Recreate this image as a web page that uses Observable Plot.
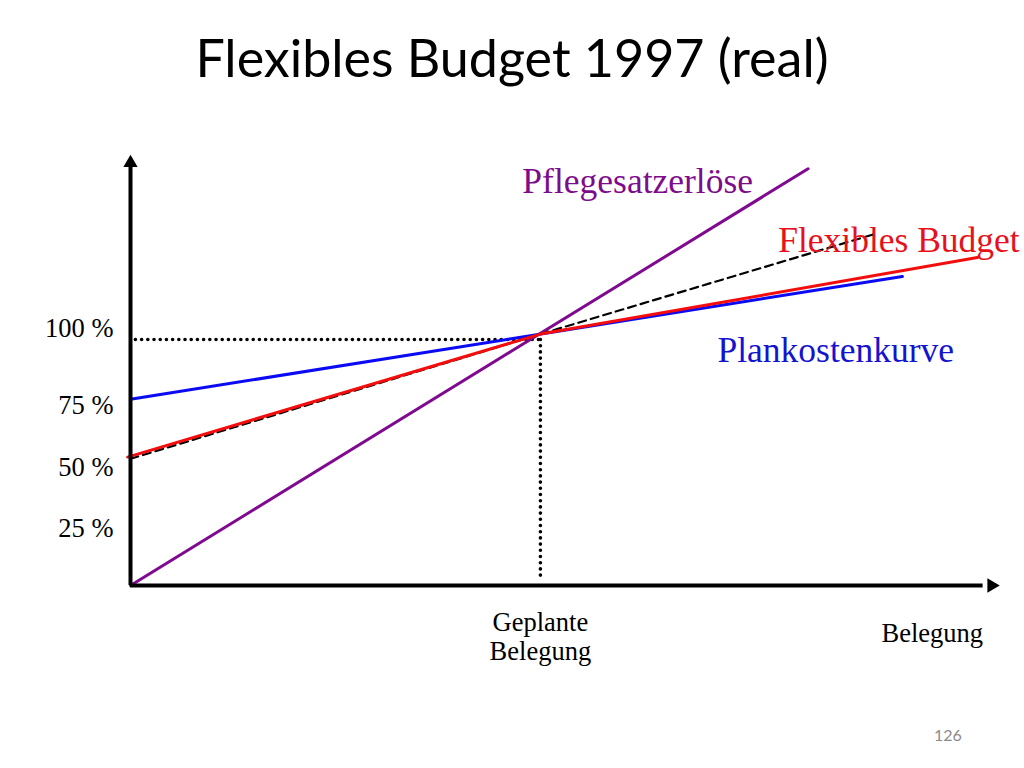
<!DOCTYPE html>
<html>
<head>
<meta charset="utf-8">
<script src="https://cdn.jsdelivr.net/npm/d3@7"></script>
<script src="https://cdn.jsdelivr.net/npm/@observablehq/plot@0.6"></script>
<style>
  html, body { margin: 0; padding: 0; background: #fff; }
  #wrap { position: relative; width: 1024px; height: 768px; overflow: hidden; }
  #title { position: absolute; left: 0; top: 31px; width: 1024px; text-align: center;
           font-family: Lato, "Open Sans", sans-serif; font-size: 52px; color: #000; line-height: 1; }
  #page { position: absolute; left: 934px; top: 725px; font-family: Lato, sans-serif; font-size: 16px; color: #8a8a8a; }
  #chart { position: absolute; left: 0; top: 0; }
</style>
</head>
<body>
<div id="wrap">
  <div id="chart"></div>
  <div id="title">Flexibles Budget 1997 (real)</div>
  <div id="page">126</div>
</div>
<script>
// ---- data (occupancy in % of planned, value in % of planned level) ----
const xMax = 212;            // end of occupancy axis
const yMax = 175;            // end of value axis
const plannedOccupancy = 100;
const plannedLevel = 100;

const pflegeX = [0, 165.3];
const pflegeY = [0, 169.4];

const planX = [0, 188.3];
const planY = [75.7, 125.6];

const flexX = [-0.7, 100, 206.6];
const flexY = [52.2, 102.2, 133.3];

const dashX = [0, 100, 182];
const dashY = [51.5, 102.2, 143.1];

const yTicks = [25, 50, 75];
const yTickLabels = ["25 %", "50 %", "75 %"];
const topTick = [100];
const topTickLabel = ["100 %"];

const seriesLabels = ["Pflegesatzerlöse", "Flexibles Budget", "Plankostenkurve"];
const seriesLabelX = [95.6, 158, 143.2];
const seriesLabelY = [164.2, 140.2, 95.5];
const seriesColors = ["#7d0c8c", "#e8101a", "#1414d0"];

const xLabelPlanned = "Geplante\nBelegung";
const xLabelAxis = "Belegung";

const zip = (xs, ys) => xs.map((x, i) => ({x, y: ys[i]}));

const serif = "'Liberation Serif', 'Times New Roman', serif";
const smallSize = 26.5;

const chart = Plot.plot({
  width: 1024,
  height: 768,
  marginLeft: 130,
  marginRight: 25,
  marginTop: 154.5,
  marginBottom: 183,
  x: {domain: [0, xMax], axis: null},
  y: {domain: [0, yMax], axis: null},
  style: {background: "#fff", overflow: "visible"},
  marks: [
    // dotted reference lines for planned occupancy
    Plot.line([{x: 1.2, y: plannedLevel}, {x: plannedOccupancy, y: plannedLevel}],
      {x: "x", y: "y", stroke: "#000", strokeWidth: 3.6, strokeDasharray: "0,6.2", strokeLinecap: "round"}),
    Plot.line([{x: plannedOccupancy, y: plannedLevel}, {x: plannedOccupancy, y: 4}],
      {x: "x", y: "y", stroke: "#000", strokeWidth: 3.6, strokeDasharray: "0,6.2", strokeLinecap: "round"}),
    // curves
    Plot.line(zip(pflegeX, pflegeY), {x: "x", y: "y", stroke: "#800a8f", strokeWidth: 3}),
    Plot.line(zip(planX, planY), {x: "x", y: "y", stroke: "#0a0af5", strokeWidth: 3}),
    Plot.line(zip(dashX, dashY), {x: "x", y: "y", stroke: "#000", strokeWidth: 2.2, strokeDasharray: "8,5"}),
    Plot.line(zip(flexX, flexY), {x: "x", y: "y", stroke: "#f40d0d", strokeWidth: 3}),
    // axes with filled arrow heads
    Plot.ruleX([0], {y1: 0, y2: yMax - 4, stroke: "#000", strokeWidth: 4}),
    Plot.ruleY([0], {x1: 0, x2: xMax - 4, stroke: "#000", strokeWidth: 4}),
    Plot.dot([0], {x: 0, y: yMax, symbol: "triangle", r: 5.3, fill: "#000", stroke: null, dy: 8}),
    Plot.dot([0], {x: xMax, y: 0, symbol: "triangle", r: 5.3, fill: "#000", stroke: null, dx: -8, rotate: 90}),
    // y tick labels
    Plot.text(yTicks, {x: 0, y: d => d, text: (d, i) => yTickLabels[i], textAnchor: "end", dx: -17, dy: 5,
      fontFamily: serif, fontSize: smallSize, fill: "#000"}),
    Plot.text(topTick, {x: 0, y: d => d, text: (d, i) => topTickLabel[i], textAnchor: "end", dx: -17, dy: -11,
      fontFamily: serif, fontSize: smallSize, fill: "#000"}),
    // x labels
    Plot.text([xLabelPlanned], {x: plannedOccupancy, y: -20.5, text: d => d, lineHeight: 1.12,
      fontFamily: serif, fontSize: smallSize, fill: "#000"}),
    Plot.text([xLabelAxis], {x: 195.6, y: -19.5, text: d => d,
      fontFamily: serif, fontSize: smallSize, fill: "#000"}),
    // series labels
    Plot.text(seriesLabels, {x: (d, i) => seriesLabelX[i], y: (d, i) => seriesLabelY[i], text: d => d,
      textAnchor: "start", fontFamily: serif, fontSize: 35.5, fill: (d, i) => seriesColors[i]})
  ]
});
document.getElementById("chart").appendChild(chart);
</script>
</body>
</html>
